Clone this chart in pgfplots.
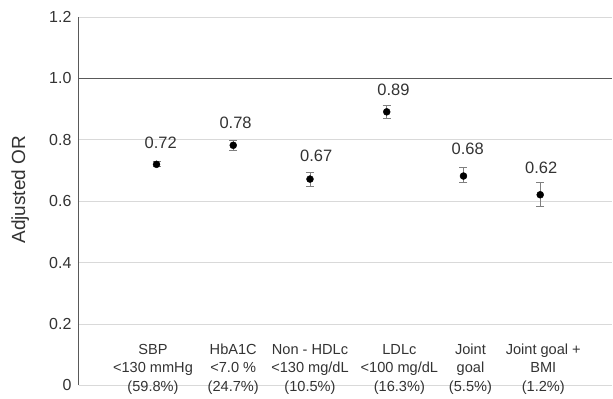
\documentclass[border=0pt]{standalone}
\usepackage{pgfplots}
\pgfplotsset{compat=1.18}
\usepackage{pgfplotstable}
\usepackage{fontspec}
\setmainfont{Liberation Sans}
\definecolor{txt}{HTML}{333333}
\definecolor{gridc}{HTML}{D9D9D9}
\definecolor{refl}{HTML}{595959}
\definecolor{errc}{HTML}{7F7F7F}
\pgfplotstableread{
x y ep em
0 0.72 0.008 0.008
1 0.782 0.016 0.016
2 0.672 0.021 0.023
3 0.891 0.021 0.023
4 0.682 0.028 0.022
5 0.621 0.041 0.038
}\points
\pgfplotstableread[col sep=comma]{
x,y,lab
0.055,0.789,0.72
1.03,0.855,0.78
2.08,0.747,0.67
3.087,0.964,0.89
4.056,0.769,0.68
5.013,0.709,0.62
}\labels
\pgfplotstableread[col sep=comma]{
x,y,lab
-0.046,0.053,{SBP\\<130 mmHg\\(59.8\%)}
1,0.053,{HbA1C\\<7.0 \%\\(24.7\%)}
2,0.053,{Non - HDLc\\<130 mg/dL\\(10.5\%)}
3.165,0.053,{LDLc\\<100 mg/dL\\(16.3\%)}
4.091,0.053,{Joint\\goal\\(5.5\%)}
5.04,0.053,{Joint goal +\\BMI\\(1.2\%)}
}\cats
\begin{document}
\begin{tikzpicture}
\begin{axis}[
  scale only axis,
  width=534pt, height=369pt,
  xmin=-1.011, xmax=5.938,
  ymin=0, ymax=1.2,
  axis x line=none,
  axis y line=left,
  axis line style={-, draw=refl, line width=1pt},
  ytick={0,0.2,0.4,0.6,0.8,1.0,1.2},
  yticklabels={0,0.2,0.4,0.6,0.8,1.0,1.2},
  major tick length=0pt,
  ymajorgrids,
  grid style={gridc, line width=0.8pt},
  yticklabel style={font=\fontsize{16}{19}\selectfont, text=txt, xshift=-4pt},
  ylabel={Adjusted OR},
  ylabel style={at={(axis description cs:-0.11,0.531)}, anchor=center, font=\fontsize{19}{22}\selectfont, text=txt},
  clip=false,
]
\path (rel axis cs:-0.148,-0.0352) rectangle (rel axis cs:1,1.046);
\addplot[refl, line width=1.6pt, forget plot] coordinates {(-1.011,1) (5.938,1)};
\addplot[only marks, mark=*, mark size=3.5pt, black,
  error bars/.cd, y dir=both, y explicit,
  error bar style={errc, line width=0.9pt},
  error mark options={errc, rotate=90, mark size=4pt, line width=0.9pt}]
  table[x=x, y=y, y error plus=ep, y error minus=em] {\points};
\addplot[only marks, mark=none, nodes near coords, point meta=explicit symbolic,
  nodes near coords style={anchor=center, font=\fontsize{16.5}{19}\selectfont, text=txt}]
  table[x=x, y=y, meta=lab] {\labels};
\addplot[only marks, mark=none, nodes near coords, point meta=explicit symbolic,
  nodes near coords style={anchor=center, align=center, font=\fontsize{14.6}{18.5}\selectfont, text=txt}]
  table[x=x, y=y, meta=lab] {\cats};
\end{axis}
\end{tikzpicture}
\end{document}
